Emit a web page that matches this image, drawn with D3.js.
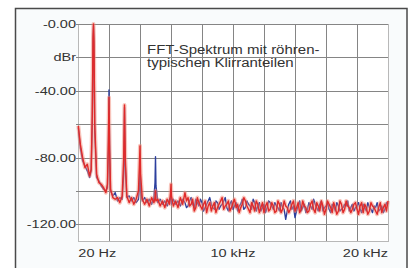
<!DOCTYPE html>
<html>
<head>
<meta charset="utf-8">
<script src="https://cdn.jsdelivr.net/npm/d3@7"></script>
<style>
    html, body { margin: 0; padding: 0; background: #ffffff; }
    #fft_plot text { font-family: "Liberation Sans", Arial, sans-serif; fill: #333333; }
</style>
</head>
<body>
<div id="fft_plot"></div>
<script>
// frequency in kHz, both channels (dBr)
const freqKHz = [
    0.02, 0.15, 0.3, 0.45, 0.6, 0.75, 0.85, 0.92, 0.97, 1.0, 1.03, 1.08,
    1.2, 1.35, 1.5, 1.65, 1.8, 1.9, 1.96, 2.0, 2.04, 2.1,
    2.25, 2.4, 2.55, 2.7, 2.85, 2.95, 3.0, 3.05, 3.15,
    3.3, 3.45, 3.6, 3.75, 3.9, 3.96, 4.0, 4.04, 4.15,
    4.3, 4.45, 4.6, 4.75, 4.9, 4.97, 5.0, 5.03, 5.15,
    5.3, 5.45, 5.6, 5.75, 5.9, 5.97, 6.0, 6.03, 6.15,
    6.3, 6.45, 6.6, 6.75, 6.9, 7.0,
    7.1, 7.2, 7.3, 7.4, 7.5, 7.6, 7.7, 7.8, 7.9, 8.0,
    8.1, 8.2, 8.3, 8.4, 8.5, 8.6, 8.7, 8.8, 8.9, 9.0,
    9.1, 9.2, 9.3, 9.4, 9.5, 9.6, 9.7, 9.8, 9.9, 10.0,
    10.1, 10.2, 10.3, 10.4, 10.5, 10.6, 10.7, 10.8, 10.9, 11.0,
    11.1, 11.2, 11.3, 11.4, 11.5, 11.6, 11.7, 11.8, 11.9, 12.0,
    12.1, 12.2, 12.3, 12.4, 12.5, 12.6, 12.7, 12.8, 12.9, 13.0,
    13.1, 13.2, 13.3, 13.4, 13.5, 13.6, 13.7, 13.8, 13.9, 14.0,
    14.1, 14.2, 14.3, 14.4, 14.5, 14.6, 14.7, 14.8, 14.9, 15.0,
    15.1, 15.2, 15.3, 15.4, 15.5, 15.6, 15.7, 15.8, 15.9, 16.0,
    16.1, 16.2, 16.3, 16.4, 16.5, 16.6, 16.7, 16.8, 16.9, 17.0,
    17.1, 17.2, 17.3, 17.4, 17.5, 17.6, 17.7, 17.8, 17.9, 18.0,
    18.1, 18.2, 18.3, 18.4, 18.5, 18.6, 18.7, 18.8, 18.9, 19.0,
    19.1, 19.2, 19.3, 19.4, 19.5, 19.6, 19.7, 19.8, 19.9, 20.0
];
const blueDb = [
    -62, -74, -82, -85, -88, -92, -88, -60, -10, -1, -12, -65,
    -92, -94, -97, -99, -100, -98, -75, -39.5, -72, -100,
    -103, -101, -106, -104, -105, -90, -50, -85, -104,
    -103, -106, -104, -107, -105, -98, -80, -100, -106,
    -104, -107, -105, -108, -104, -95, -79.5, -97, -107,
    -105, -108, -106, -109, -105, -104, -106, -108, -105,
    -108, -106, -109, -105, -107, -110,
    -109, -106, -104, -108, -110, -105, -107, -109, -105, -107,
    -112, -110, -108, -106, -104, -108, -110, -111, -106, -107,
    -111, -109, -108, -106, -104, -110, -112, -108, -106, -111,
    -109, -107, -112, -109, -108, -105, -111, -110, -106, -108,
    -109, -111, -105, -107, -112, -109, -107, -112, -110, -108,
    -113, -110, -106, -107, -109, -111, -107, -109, -110, -112,
    -107, -110, -111, -117, -112, -108, -106, -111, -109, -116,
    -112, -109, -106, -112, -110, -108, -113, -111, -107, -109,
    -111, -105, -108, -110, -112, -108, -106, -112, -110, -109,
    -107, -111, -113, -108, -109, -112, -107, -109, -112, -111,
    -110, -108, -109, -106, -112, -110, -108, -112, -110, -109,
    -107, -111, -113, -108, -110, -112, -107, -110, -111, -113,
    -109, -110, -107, -112, -111, -109, -113, -111, -107, -108
];
const redDb = [
    -61, -72, -80, -86, -84, -91, -87, -55, -8, 0, -10, -60,
    -90, -95, -96, -98, -101, -96, -70, -44, -75, -99,
    -104, -105, -104, -107, -103, -80, -48.5, -80, -103,
    -107, -104, -108, -105, -100, -85, -73, -90, -105,
    -108, -105, -109, -104, -107, -104, -100, -106, -105,
    -109, -106, -110, -105, -108, -101, -96, -103, -109,
    -106, -110, -104, -108, -101, -106,
    -104, -109, -108, -105, -112, -110, -104, -107, -109, -111,
    -108, -106, -113, -109, -107, -112, -109, -107, -113, -110,
    -108, -106, -104, -111, -109, -108, -106, -112, -110, -107,
    -105, -110, -108, -113, -110, -108, -104, -106, -109, -111,
    -113, -107, -109, -112, -106, -108, -113, -110, -107, -113,
    -109, -107, -112, -111, -107, -109, -113, -112, -106, -108,
    -113, -111, -106, -109, -110, -113, -111, -108, -106, -112,
    -110, -107, -113, -111, -106, -109, -110, -113, -112, -108,
    -106, -111, -113, -107, -109, -112, -106, -109, -114, -111,
    -106, -108, -110, -113, -107, -110, -114, -112, -106, -108,
    -113, -111, -106, -109, -110, -113, -111, -108, -107, -111,
    -114, -109, -107, -113, -108, -110, -114, -112, -107, -109,
    -110, -112, -114, -110, -107, -113, -110, -108, -112, -106
];

// axis labels
const yTicks = [0, -20, -40, -60, -80, -100, -120];
const yLabels = { "0": "-0.00", "-20": "dBr", "-40": "-40.00", "-80": "-80.00", "-120": "-120.00" };
const xGrid = [0, 2, 4, 6, 8, 10, 12, 14, 16, 18, 20];
const xLabels = [
    { f: 0.02, text: "20 Hz", anchor: "start" },
    { f: 10, text: "10 kHz", anchor: "middle" },
    { f: 20, text: "20 kHz", anchor: "end" }
];
const titleLines = ["FFT-Spektrum mit röhren-", "typischen Klirranteilen"];

const width = 411, height = 268;
const stretch = 1.32; // the scan is stretched sideways, text too
const plot = { left: 78, right: 388, top: 24, bottom: 241 };

let svg = d3.select("#fft_plot")
    .append("svg")
        .attr("width", width)
        .attr("height", height);

// frame
svg.append("rect")
    .attr("x", 15.5).attr("y", 8.5)
    .attr("width", 391.5).attr("height", 270)
    .attr("fill", "#f9fbfc")
    .attr("stroke", "#4a4a4a")
    .attr("stroke-width", 1.5);

let x = d3.scaleLinear()
    .domain([0, 20])
    .range([plot.left, plot.right]);
let y = d3.scaleLinear()
    .domain([-130, 0])
    .range([plot.bottom, plot.top]);

// plot borders (light)
svg.append("rect")
    .attr("x", plot.left + 0.5).attr("y", plot.top + 0.5)
    .attr("width", plot.right - plot.left).attr("height", plot.bottom - plot.top)
    .attr("fill", "#ffffff")
    .attr("stroke", "#b8b8b8");

// grid
svg.append("g")
    .selectAll("line")
    .data(yTicks)
    .enter()
    .append("line")
        .attr("x1", plot.left - 2).attr("x2", plot.right)
        .attr("y1", d => Math.round(y(d)) + 0.5)
        .attr("y2", d => Math.round(y(d)) + 0.5)
        .attr("stroke", "#858585");
svg.append("g")
    .selectAll("line")
    .data(xGrid.slice(1))
    .enter()
    .append("line")
        .attr("x1", d => Math.round(x(d)) + 0.5)
        .attr("x2", d => Math.round(x(d)) + 0.5)
        .attr("y1", plot.top).attr("y2", plot.bottom)
        .attr("stroke", d => d === 20 ? "#b8b8b8" : "#858585");

// spectra
let points = freqKHz.map((f, i) => ({ f: f, blue: blueDb[i], red: redDb[i] }));
let blueLine = d3.line().x(d => x(d.f)).y(d => y(d.blue));
let redLine = d3.line().x(d => x(d.f)).y(d => y(d.red));

svg.append("path")
    .datum(points)
    .attr("d", blueLine)
    .attr("fill", "none")
    .attr("stroke", "#2c3f9e")
    .attr("stroke-width", 1.4)
    .attr("stroke-linejoin", "round");
// soft halo around the red trace
svg.append("path")
    .datum(points)
    .attr("d", redLine)
    .attr("fill", "none")
    .attr("stroke", "#f28a78")
    .attr("stroke-opacity", 0.5)
    .attr("stroke-width", 4)
    .attr("stroke-linejoin", "round");
svg.append("path")
    .datum(points)
    .attr("d", redLine)
    .attr("fill", "none")
    .attr("stroke", "#e02a2a")
    .attr("stroke-width", 1.4)
    .attr("stroke-linejoin", "round");

// y labels
svg.append("g")
    .selectAll("text")
    .data(yTicks.filter(d => yLabels[d] !== undefined))
    .enter()
    .append("text")
        .attr("transform", d => `translate(76,${y(d) + 4}) scale(${stretch},1)`)
        .attr("text-anchor", "end")
        .attr("font-size", "11px")
        .text(d => yLabels[d]);

// x labels
svg.append("g")
    .selectAll("text")
    .data(xLabels)
    .enter()
    .append("text")
        .attr("transform", d => `translate(${x(d.f)},257) scale(${stretch},1)`)
        .attr("text-anchor", d => d.anchor)
        .attr("font-size", "11px")
        .text(d => d.text);

// caption inside the plot
svg.append("g")
    .selectAll("text")
    .data(titleLines)
    .enter()
    .append("text")
        .attr("transform", (d, i) => `translate(147,${54 + i * 13}) scale(1.25,1)`)
        .attr("font-size", "12px")
        .text(d => d);
</script>
</body>
</html>
